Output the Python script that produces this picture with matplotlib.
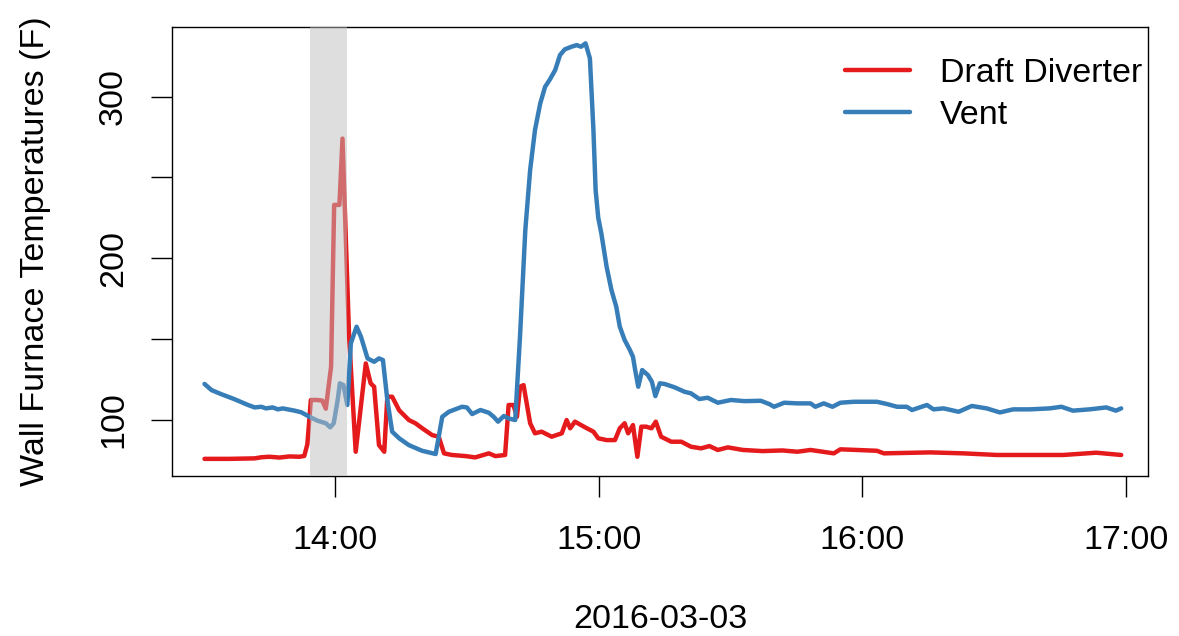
import matplotlib
matplotlib.use("Agg")
import matplotlib.pyplot as plt

# Wall furnace temperatures (F), 2016-03-03; times are minutes after 13:00
draft_minutes = [30.3, 36.0, 41.7, 43.3, 45.1, 47.4, 49.6, 51.9, 53.0, 53.7, 54.5, 56.0,
                 57.1, 57.9, 59.1, 59.8, 61.0, 61.7, 63.2, 64.7, 67.0, 68.1, 68.9, 70.0,
                 71.2, 71.9, 73.0, 74.6, 76.8, 78.3, 79.8, 82.1, 83.6, 84.8, 86.6, 89.7,
                 91.9, 95.0, 96.5, 98.7, 99.5, 100.6, 101.4, 102.1, 102.9, 104.4, 105.5,
                 107.0, 109.3, 111.6, 112.7, 113.5, 114.6, 116.9, 118.8, 119.9, 121.8,
                 123.7, 124.8, 125.9, 126.7, 127.8, 128.8, 129.7, 130.8, 132.0, 133.0,
                 134.2, 136.5, 138.8, 141.0, 143.3, 145.2, 147.1, 149.4, 152.8, 157.3,
                 161.8, 165.2, 168.2, 173.5, 175.0, 183.3, 184.9, 195.5, 203.0, 210.6,
                 225.7, 233.2, 238.9]
draft_temp = [76.0, 76.0, 76.3, 77.0, 77.3, 76.8, 77.5, 77.3, 77.8, 85.0, 112.4, 112.4,
              112.0, 107.0, 133.0, 233.0, 233.0, 274.0, 151.5, 80.4, 135.0, 122.7, 120.6,
              84.5, 80.4, 114.4, 114.4, 106.0, 100.0, 98.0, 95.0, 90.7, 89.7, 79.4, 78.4,
              77.7, 76.9, 79.4, 77.7, 78.4, 109.3, 109.3, 102.0, 120.6, 121.6, 98.0, 91.8,
              92.8, 89.7, 91.8, 100.0, 94.9, 99.0, 95.5, 92.8, 88.7, 87.6, 87.6, 94.9,
              98.0, 91.8, 96.9, 77.3, 95.9, 95.9, 94.9, 99.0, 89.7, 86.6, 86.6, 83.5,
              82.5, 83.9, 81.5, 83.1, 81.5, 80.8, 81.2, 80.4, 81.5, 79.4, 81.9, 81.0,
              79.4, 80.0, 79.4, 78.4, 78.4, 79.8, 78.4]

vent_minutes = [30.3, 31.9, 34.1, 37.2, 40.2, 41.7, 43.2, 44.3, 45.8, 47.0, 48.1, 50.8,
                52.3, 54.2, 56.0, 57.9, 58.9, 59.7, 60.6, 61.1, 61.9, 62.8, 63.6, 64.9,
                65.9, 67.4, 68.9, 70.0, 70.9, 71.9, 73.0, 74.6, 76.8, 79.8, 82.9, 84.4,
                85.9, 88.9, 90.0, 91.2, 93.1, 95.0, 96.1, 97.1, 98.4, 99.5, 101.0, 102.1,
                103.3, 104.4, 105.5, 106.7, 107.8, 108.9, 110.1, 111.2, 112.3, 113.8,
                115.0, 116.0, 117.0, 118.0, 118.8, 119.3, 119.9, 120.6, 121.8, 122.9,
                124.0, 124.8, 125.9, 127.1, 127.8, 128.3, 129.0, 129.9, 131.2, 132.1,
                132.9, 133.9, 135.0, 137.3, 139.5, 141.0, 142.9, 144.8, 147.1, 150.1,
                153.1, 156.9, 158.8, 159.9, 162.2, 165.2, 168.2, 169.3, 171.2, 173.2,
                175.0, 178.1, 183.3, 185.6, 187.9, 190.1, 191.3, 194.7, 196.2, 198.5,
                201.9, 204.9, 208.3, 211.3, 214.3, 218.1, 222.6, 225.3, 227.9, 231.7,
                235.5, 237.7, 238.9]
vent_temp = [122.3, 118.5, 116.0, 112.8, 109.3, 107.8, 108.2, 107.2, 107.8, 106.6, 107.2,
             105.8, 104.8, 102.0, 99.6, 98.0, 95.5, 98.0, 112.4, 122.7, 121.6, 109.3,
             147.4, 157.7, 151.5, 138.1, 136.0, 138.1, 137.1, 112.4, 92.8, 88.7, 84.5,
             81.0, 79.0, 102.0, 105.1, 108.2, 107.8, 103.7, 106.2, 104.5, 102.0, 99.0,
             102.5, 101.0, 100.0, 152.0, 217.5, 254.6, 279.3, 295.8, 306.0, 310.6, 316.4,
             325.7, 329.2, 330.8, 331.8, 330.8, 332.9, 323.6, 279.3, 242.2, 225.0, 215.4,
             194.8, 180.4, 170.0, 157.7, 149.5, 143.3, 139.1, 130.9, 120.6, 130.9, 127.8,
             123.7, 114.8, 122.7, 122.3, 120.2, 117.5, 116.5, 113.0, 113.8, 110.7, 112.4,
             111.7, 111.9, 109.9, 108.2, 110.7, 110.3, 110.3, 108.2, 110.3, 108.2, 110.7,
             111.3, 111.3, 109.9, 108.2, 108.2, 106.2, 109.3, 106.6, 107.2, 105.1, 108.7,
             107.2, 104.7, 106.6, 106.6, 107.2, 108.2, 105.8, 106.6, 107.8, 105.8, 107.2]

series_labels = ["Draft Diverter", "Vent"]
series_colors = ["#e41a1c", "#377eb8"]

# highlighted interval (minutes after 13:00)
highlight_start, highlight_end = 54.2, 62.8

x_tick_minutes = [60, 120, 180, 240]
x_tick_labels = ["14:00", "15:00", "16:00", "17:00"]
y_ticks = [100, 150, 200, 250, 300]
y_tick_labels = ["100", "", "200", "", "300"]
date_label = "2016-03-03"
y_label = "Wall Furnace Temperatures (F)"

plt.rcParams["font.family"] = ["Liberation Sans", "DejaVu Sans"]
FS = 24.5

W, H = 1179, 636
fig = plt.figure(figsize=(W / 100, H / 100), dpi=100)
ax = fig.add_axes([172 / W, 1 - 476 / H, (1148 - 172) / W, (476 - 27) / H])

ax.plot(draft_minutes, draft_temp, color=series_colors[0], lw=3.2,
        solid_joinstyle="round", solid_capstyle="round",
        label=series_labels[0], zorder=2)
ax.plot(vent_minutes, vent_temp, color=series_colors[1], lw=3.2,
        solid_joinstyle="round", solid_capstyle="round",
        label=series_labels[1], zorder=3)
ax.axvspan(highlight_start, highlight_end, color="#bebebe", alpha=0.5, lw=0, zorder=4)

ax.set_xlim(22.9, 245.0)
ax.set_ylim(65.4, 343.0)

ax.set_xticks(x_tick_minutes)
ax.set_xticklabels(x_tick_labels)
ax.set_yticks(y_ticks)
ax.set_yticklabels(y_tick_labels, rotation=90, va="center")
ax.tick_params(axis="both", direction="out", length=15, width=1.0, color="black",
               labelsize=FS, pad=20)
ax.tick_params(axis="y", pad=16)

for s in ax.spines.values():
    s.set_linewidth(1.0)
    s.set_color("black")

ax.set_xlabel(date_label, fontsize=FS, labelpad=35)
ax.set_ylabel(y_label, fontsize=FS, labelpad=34)

leg = ax.legend(loc="upper left", bbox_to_anchor=(845 / W, 1 - 58 / H),
                bbox_transform=fig.transFigure, frameon=False, fontsize=FS,
                handlelength=1.9, handletextpad=0.88, labelspacing=0.32,
                borderpad=0, borderaxespad=0)

fig.savefig("out.png", dpi=100)
